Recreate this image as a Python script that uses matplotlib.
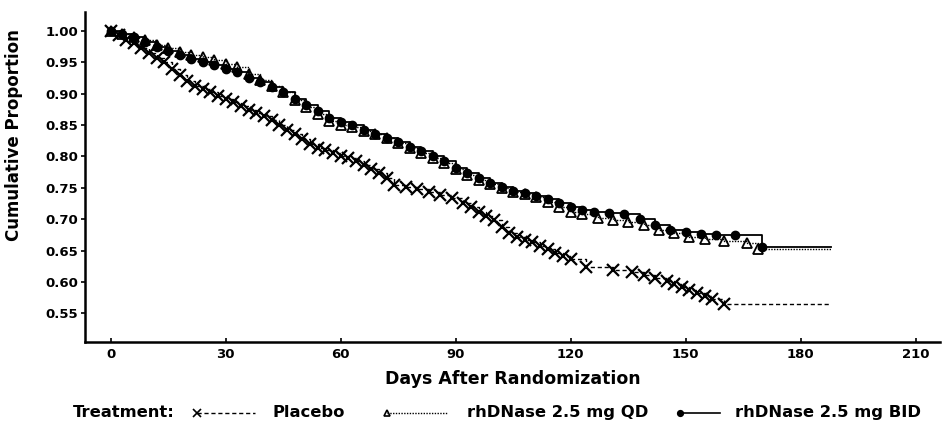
import matplotlib
matplotlib.use("Agg")
import matplotlib.pyplot as plt
from matplotlib.lines import Line2D

# ---- data ----
placebo_days = [0, 2, 4, 6, 8, 10, 12, 14, 16, 18, 20, 22, 24, 26, 28, 30, 32, 34, 36, 38,
                40, 42, 44, 46, 48, 50, 52, 54, 56, 58, 60, 62, 64, 66, 68, 70, 72, 74, 77,
                80, 83, 86, 89, 92, 94, 96, 98, 100, 102, 104, 106, 108, 110, 112, 114, 116,
                118, 120, 124, 131, 136, 139, 142, 145, 147, 149, 151, 153, 155, 157, 160, 188]
placebo_surv = [1.0, 0.993, 0.986, 0.98, 0.972, 0.965, 0.957, 0.95, 0.94, 0.93, 0.92, 0.913,
                0.907, 0.903, 0.897, 0.892, 0.887, 0.88, 0.874, 0.869, 0.864, 0.858, 0.85,
                0.842, 0.835, 0.828, 0.82, 0.813, 0.81, 0.805, 0.80, 0.797, 0.792, 0.786, 0.78,
                0.773, 0.765, 0.755, 0.751, 0.748, 0.743, 0.738, 0.733, 0.725, 0.719, 0.712,
                0.705, 0.698, 0.688, 0.678, 0.671, 0.667, 0.663, 0.658, 0.652, 0.646, 0.641,
                0.636, 0.624, 0.619, 0.615, 0.611, 0.607, 0.602, 0.597, 0.592, 0.587, 0.582,
                0.577, 0.572, 0.565, 0.565]

qd_days = [0, 3, 6, 9, 12, 15, 18, 21, 24, 27, 30, 33, 36, 39, 42, 45, 48, 51, 54, 57, 60,
           63, 66, 69, 72, 75, 78, 81, 84, 87, 90, 93, 96, 99, 102, 105, 108, 111, 114, 117,
           120, 123, 127, 131, 135, 139, 143, 147, 151, 155, 160, 166, 169, 188]
qd_surv = [1.0, 0.995, 0.99, 0.985, 0.978, 0.972, 0.966, 0.962, 0.958, 0.953, 0.948, 0.942,
           0.932, 0.922, 0.912, 0.902, 0.89, 0.878, 0.867, 0.857, 0.85, 0.847, 0.84, 0.835,
           0.83, 0.822, 0.813, 0.805, 0.797, 0.79, 0.78, 0.771, 0.763, 0.756, 0.75, 0.744,
           0.74, 0.735, 0.728, 0.72, 0.712, 0.708, 0.702, 0.698, 0.695, 0.69, 0.683, 0.678,
           0.672, 0.668, 0.665, 0.662, 0.652, 0.652]

bid_days = [0, 3, 6, 9, 12, 15, 18, 21, 24, 27, 30, 33, 36, 39, 42, 45, 48, 51, 54, 57, 60,
            63, 66, 69, 72, 75, 78, 81, 84, 87, 90, 93, 96, 99, 102, 105, 108, 111, 114, 117,
            120, 123, 126, 130, 134, 138, 142, 146, 150, 154, 158, 163, 170, 188]
bid_surv = [1.0, 0.995, 0.99, 0.982, 0.975, 0.968, 0.962, 0.955, 0.95, 0.945, 0.94, 0.935,
            0.925, 0.918, 0.91, 0.902, 0.892, 0.882, 0.872, 0.862, 0.855, 0.85, 0.842, 0.835,
            0.83, 0.823, 0.815, 0.808, 0.80, 0.792, 0.782, 0.773, 0.765, 0.758, 0.752, 0.745,
            0.742, 0.737, 0.732, 0.725, 0.72, 0.715, 0.712, 0.71, 0.708, 0.70, 0.69, 0.683,
            0.679, 0.677, 0.675, 0.674, 0.656, 0.656]

x_ticks = [0, 30, 60, 90, 120, 150, 180, 210]
y_ticks = [0.55, 0.60, 0.65, 0.70, 0.75, 0.80, 0.85, 0.90, 0.95, 1.00]
labels = ["Placebo", "rhDNase 2.5 mg QD", "rhDNase 2.5 mg BID"]

plt.rcParams["font.family"] = ["DejaVu Sans"]
plt.rcParams["font.weight"] = "bold"

fig = plt.figure(figsize=(9.42, 4.32), dpi=100)
ax = fig.add_axes([0.090, 0.208, 0.908, 0.764])

n = len(placebo_days)
ax.plot(placebo_days, placebo_surv, drawstyle="steps-post", color="black", lw=1.0,
        ls=(0, (3, 2)), marker="x", ms=8, mew=1.6, markevery=list(range(n - 1)))
n = len(qd_days)
ax.plot(qd_days, qd_surv, drawstyle="steps-post", color="black", lw=1.0,
        ls=(0, (1, 1)), marker="^", ms=7, mfc="none", mew=1.3, markevery=list(range(n - 1)))
n = len(bid_days)
ax.plot(bid_days, bid_surv, drawstyle="steps-post", color="black", lw=1.3,
        ls="-", marker="o", ms=6, mfc="black", markevery=list(range(n - 1)))

ax.set_xlim(-6.8, 216.4)
ax.set_ylim(0.504, 1.03)
ax.set_xticks(x_ticks)
ax.set_yticks(y_ticks)
ax.set_yticklabels([f"{v:.2f}" for v in y_ticks])
ax.tick_params(axis="both", labelsize=9.5, width=1.2, length=3, colors="black")
ax.tick_params(axis="x", direction="in", pad=4)
ax.tick_params(axis="y", pad=2)
for lab in ax.get_xticklabels() + ax.get_yticklabels():
    lab.set_fontweight("bold")

for s in ["top", "right"]:
    ax.spines[s].set_visible(False)
for s in ["left", "bottom"]:
    ax.spines[s].set_linewidth(1.8)

ax.set_xlabel("Days After Randomization", fontsize=12.5, fontweight="bold", labelpad=7)
ax.set_ylabel("Cumulative Proportion", fontsize=12, fontweight="bold")
ax.yaxis.set_label_coords(-0.072, 0.627)

# legend row along the bottom
ly = 0.045
fs = 11.8
W, H = 942.0, 432.0
fig.text(73 / W, ly, "Treatment:", fontsize=fs, fontweight="bold", va="center", ha="left")

def leg_line(x0, x1, marker, ls, mfc, ms, lw):
    fig.add_artist(Line2D([x0 / W, x1 / W], [ly, ly], color="black", lw=lw, ls=ls,
                          transform=fig.transFigure))
    fig.add_artist(Line2D([x0 / W], [ly], color="black", marker=marker, ms=ms, mfc=mfc,
                          ls="none", mew=1.2, transform=fig.transFigure))

leg_line(197, 255, "x", (0, (3, 2)), "black", 6, 1.0)
fig.text(273 / W, ly, labels[0], fontsize=fs, fontweight="bold", va="center", ha="left")
leg_line(387, 447, "^", (0, (1, 1)), "none", 5, 1.0)
fig.text(467 / W, ly, labels[1], fontsize=fs, fontweight="bold", va="center", ha="left")
leg_line(680, 720, "o", "-", "black", 4, 1.2)
fig.text(735 / W, ly, labels[2], fontsize=fs, fontweight="bold", va="center", ha="left")

fig.savefig("out.png", dpi=100, facecolor="white")
